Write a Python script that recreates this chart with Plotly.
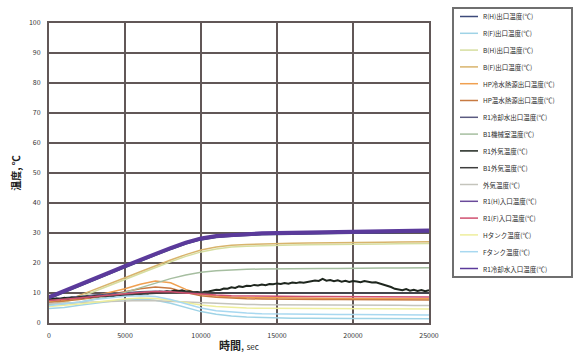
import plotly.graph_objects as go

# sampling times [sec]
T = list(range(0, 25001, 1000))
T_FINE = list(range(0, 25001, 250))

NAMES = [
    "R(H)出口温度(℃)",
    "R(F)出口温度(℃)",
    "B(H)出口温度(℃)",
    "B(F)出口温度(℃)",
    "HP冷水熱源出口温度(℃)",
    "HP温水熱源出口温度(℃)",
    "R1冷却水出口温度(℃)",
    "B1機械室温度(℃)",
    "R1外気温度(℃)",
    "B1外気温度(℃)",
    "外気温度(℃)",
    "R1(H)入口温度(℃)",
    "R1(F)入口温度(℃)",
    "Hタンク温度(℃)",
    "Fタンク温度(℃)",
    "R1冷却水入口温度(℃)",
]

COLORS = [
    "#3d4a7a", "#9fd3e6", "#d6dea0", "#d8b46c", "#f0a050", "#c77a42",
    "#5a5a80", "#a6bea0", "#1e261e", "#3e3e3e", "#c4c4bc", "#6a4a9a",
    "#d05070", "#eeee9c", "#a8d8f0", "#5b3a9b",
]

r_h_out = [8.1, 10.1, 12.2, 14.3, 16.4, 18.5, 20.6, 22.6, 24.5, 26.3, 27.7, 28.5, 28.9, 29.2, 29.4, 29.5, 29.6, 29.7, 29.8, 29.9, 29.9, 30.0, 30.1, 30.1, 30.2, 30.3]
r_f_out = [4.8, 5.2, 5.9, 6.6, 7.3, 7.8, 8.0, 7.6, 6.6, 5.1, 3.8, 2.9, 2.3, 2.0, 1.8, 1.7, 1.6, 1.6, 1.5, 1.5, 1.5, 1.5, 1.5, 1.5, 1.4, 1.4]
b_h_out = [5.6, 6.8, 8.6, 10.5, 12.5, 14.5, 16.5, 18.5, 20.4, 22.2, 23.7, 24.7, 25.3, 25.6, 25.8, 25.9, 26.0, 26.1, 26.1, 26.2, 26.2, 26.3, 26.3, 26.4, 26.4, 26.5]
b_f_out = [6.0, 7.3, 9.2, 11.1, 13.1, 15.1, 17.1, 19.1, 21.0, 22.8, 24.3, 25.3, 25.9, 26.2, 26.4, 26.5, 26.6, 26.7, 26.7, 26.8, 26.8, 26.9, 26.9, 27.0, 27.0, 27.1]
hp_c_out = [7.0, 7.5, 8.2, 9.0, 10.1, 11.4, 12.9, 14.0, 13.4, 11.2, 9.6, 9.0, 8.7, 8.5, 8.4, 8.4, 8.3, 8.3, 8.3, 8.2, 8.2, 8.2, 8.2, 8.2, 8.1, 8.1]
hp_h_out = [6.8, 7.2, 7.8, 8.5, 9.4, 10.4, 11.4, 12.0, 11.6, 10.2, 9.1, 8.6, 8.3, 8.1, 8.0, 7.9, 7.9, 7.9, 7.8, 7.8, 7.8, 7.8, 7.8, 7.7, 7.7, 7.7]
r1_cw_out = [8.0, 8.3, 8.8, 9.3, 9.7, 10.1, 10.4, 10.6, 10.6, 10.4, 10.2, 10.1, 10.0, 10.0, 10.0, 9.9, 9.9, 9.9, 9.9, 9.9, 9.9, 9.9, 9.9, 9.9, 9.9, 9.9]
b1_room = [6.0, 6.3, 6.9, 7.8, 8.9, 10.2, 11.7, 13.3, 14.8, 16.0, 16.9, 17.4, 17.7, 17.9, 18.0, 18.1, 18.1, 18.2, 18.2, 18.2, 18.3, 18.3, 18.3, 18.3, 18.4, 18.4]
r1_outdoor = [
    7.8, 8.0, 8.2, 7.9, 8.4, 8.2, 8.5, 8.3, 8.7, 8.5, 8.8, 8.6, 9.0, 8.8, 9.1, 8.9,
    9.2, 9.0, 9.3, 9.1, 9.4, 9.5, 9.4, 9.8, 9.7, 10.0, 9.8, 10.2, 10.0, 10.4, 10.3, 10.6,
    10.4, 10.8, 10.6, 10.9, 10.5, 10.6, 10.2, 10.3, 10.0, 10.4, 10.5, 10.9, 11.1, 11.0, 11.5, 11.4,
    11.9, 11.7, 12.2, 12.0, 12.4, 12.3, 12.7, 12.5, 12.8, 12.6, 13.0, 12.9, 13.2, 13.0, 13.3, 13.1,
    13.5, 13.3, 13.6, 13.4, 13.7, 13.9, 14.2, 14.0, 14.7, 14.1, 14.3, 13.9, 14.2, 13.8, 14.1, 13.7,
    14.0, 13.8, 13.6, 14.0, 13.7, 13.5, 13.6, 13.2, 13.0, 12.5, 12.0, 11.4, 11.2, 10.9, 11.3, 10.8,
    11.1, 10.7, 11.0, 10.6, 10.9,
]
b1_outdoor = [7.6, 8.1, 8.5, 8.8, 9.1, 9.3, 9.6, 9.9, 10.2, 10.3, 10.1, 10.0, 10.0, 10.0, 10.0, 10.0, 10.0, 10.0, 10.0, 10.0, 10.0, 10.0, 10.0, 10.0, 10.0, 10.0]
outdoor = [6.5, 6.6, 6.8, 7.0, 7.2, 7.4, 7.5, 7.4, 7.2, 6.9, 6.6, 6.4, 6.3, 6.2, 6.1, 6.1, 6.0, 6.0, 6.0, 5.9, 5.9, 5.9, 5.9, 5.9, 5.8, 5.8]
r1_h_in = [8.3, 10.3, 12.4, 14.5, 16.6, 18.7, 20.8, 22.8, 24.7, 26.5, 27.9, 28.7, 29.1, 29.4, 29.6, 29.7, 29.8, 29.9, 30.0, 30.1, 30.1, 30.2, 30.3, 30.3, 30.4, 30.5]
r1_f_in = [7.5, 7.8, 8.3, 8.8, 9.3, 9.8, 10.2, 10.5, 10.4, 10.0, 9.6, 9.3, 9.1, 9.0, 8.9, 8.9, 8.8, 8.8, 8.8, 8.8, 8.7, 8.7, 8.7, 8.7, 8.7, 8.7]
h_tank = [5.5, 5.8, 6.3, 6.9, 7.5, 8.0, 8.3, 8.2, 7.6, 6.8, 6.0, 5.5, 5.2, 5.0, 4.9, 4.9, 4.8, 4.8, 4.8, 4.8, 4.7, 4.7, 4.7, 4.7, 4.7, 4.7]
f_tank = [5.8, 6.3, 7.0, 7.8, 8.4, 8.9, 9.1, 8.8, 7.8, 6.3, 5.0, 4.1, 3.6, 3.3, 3.1, 3.0, 2.9, 2.9, 2.8, 2.8, 2.8, 2.8, 2.7, 2.7, 2.7, 2.7]
r1_cw_in = [8.6, 10.6, 12.7, 14.8, 16.9, 19.0, 21.1, 23.1, 25.0, 26.8, 28.2, 29.0, 29.4, 29.7, 29.9, 30.0, 30.1, 30.2, 30.3, 30.4, 30.4, 30.5, 30.6, 30.6, 30.7, 30.8]

SERIES = [
    r_h_out, r_f_out, b_h_out, b_f_out, hp_c_out, hp_h_out, r1_cw_out, b1_room,
    r1_outdoor, b1_outdoor, outdoor, r1_h_in, r1_f_in, h_tank, f_tank, r1_cw_in,
]
WIDTHS = [1.5, 1.5, 1.5, 1.5, 1.5, 1.5, 1.5, 1.5, 2, 1.5, 1.5, 1.5, 1.5, 1.5, 1.5, 4]

# plot area in pixels (used to place the hand-built legend box)
W, H = 578, 355
L, R, TOP, BOT = 49, 149, 23, 32
PW, PH = W - L - R, H - TOP - BOT


def px_x(px):
    return (px - L) / PW


def px_y(py):
    return (H - BOT - py) / PH


fig = go.Figure()
for name, ys, color, w in zip(NAMES, SERIES, COLORS, WIDTHS):
    xs = T_FINE if len(ys) == len(T_FINE) else T
    fig.add_trace(go.Scatter(x=xs, y=ys, mode="lines", name=name,
                             line=dict(color=color, width=w), showlegend=False))

# legend box with one line sample + label per series
shapes = [dict(type="rect", xref="paper", yref="paper",
               x0=px_x(453), x1=px_x(572), y0=px_y(8), y1=px_y(277),
               line=dict(color="#6f6f6f", width=2), fillcolor="white", layer="below")]
annotations = []
for i, (name, color) in enumerate(zip(NAMES, COLORS)):
    yy = 16.5 + i * 16.8
    shapes.append(dict(type="line", xref="paper", yref="paper",
                       x0=px_x(460), x1=px_x(478), y0=px_y(yy), y1=px_y(yy),
                       line=dict(color=color, width=1.5)))
    annotations.append(dict(xref="paper", yref="paper", x=px_x(481), y=px_y(yy),
                            xanchor="left", yanchor="middle", showarrow=False,
                            text=name, font=dict(size=6.5, color="#2a2a2a")))

axis_style = dict(
    showgrid=True, gridcolor="#615757", gridwidth=2,
    showline=True, linecolor="#615757", linewidth=2, mirror=True,
    zeroline=False, ticks="",
    tickfont=dict(family="Noto Sans CJK JP", size=7, color="#333"),
)

fig.update_layout(
    width=W, height=H,
    margin=dict(l=L, r=R, t=TOP, b=BOT, autoexpand=False),
    paper_bgcolor="white", plot_bgcolor="white",
    font=dict(family="Noto Sans CJK JP"),
    xaxis=dict(range=[0, 25000], dtick=5000, tickformat="d", ticklabelstandoff=5,
               title=dict(text="<b>時間</b>, <span style='font-size:8px'>sec</span>",
                          font=dict(size=11, color="#222"), standoff=3),
               **axis_style),
    yaxis=dict(range=[0, 100], dtick=10, ticklabelstandoff=5,
               title=dict(text="<b>温度, ℃</b>", font=dict(size=10, color="#222"), standoff=6),
               **axis_style),
    shapes=shapes,
    annotations=annotations,
    showlegend=False,
)

fig.write_html("out.html")
